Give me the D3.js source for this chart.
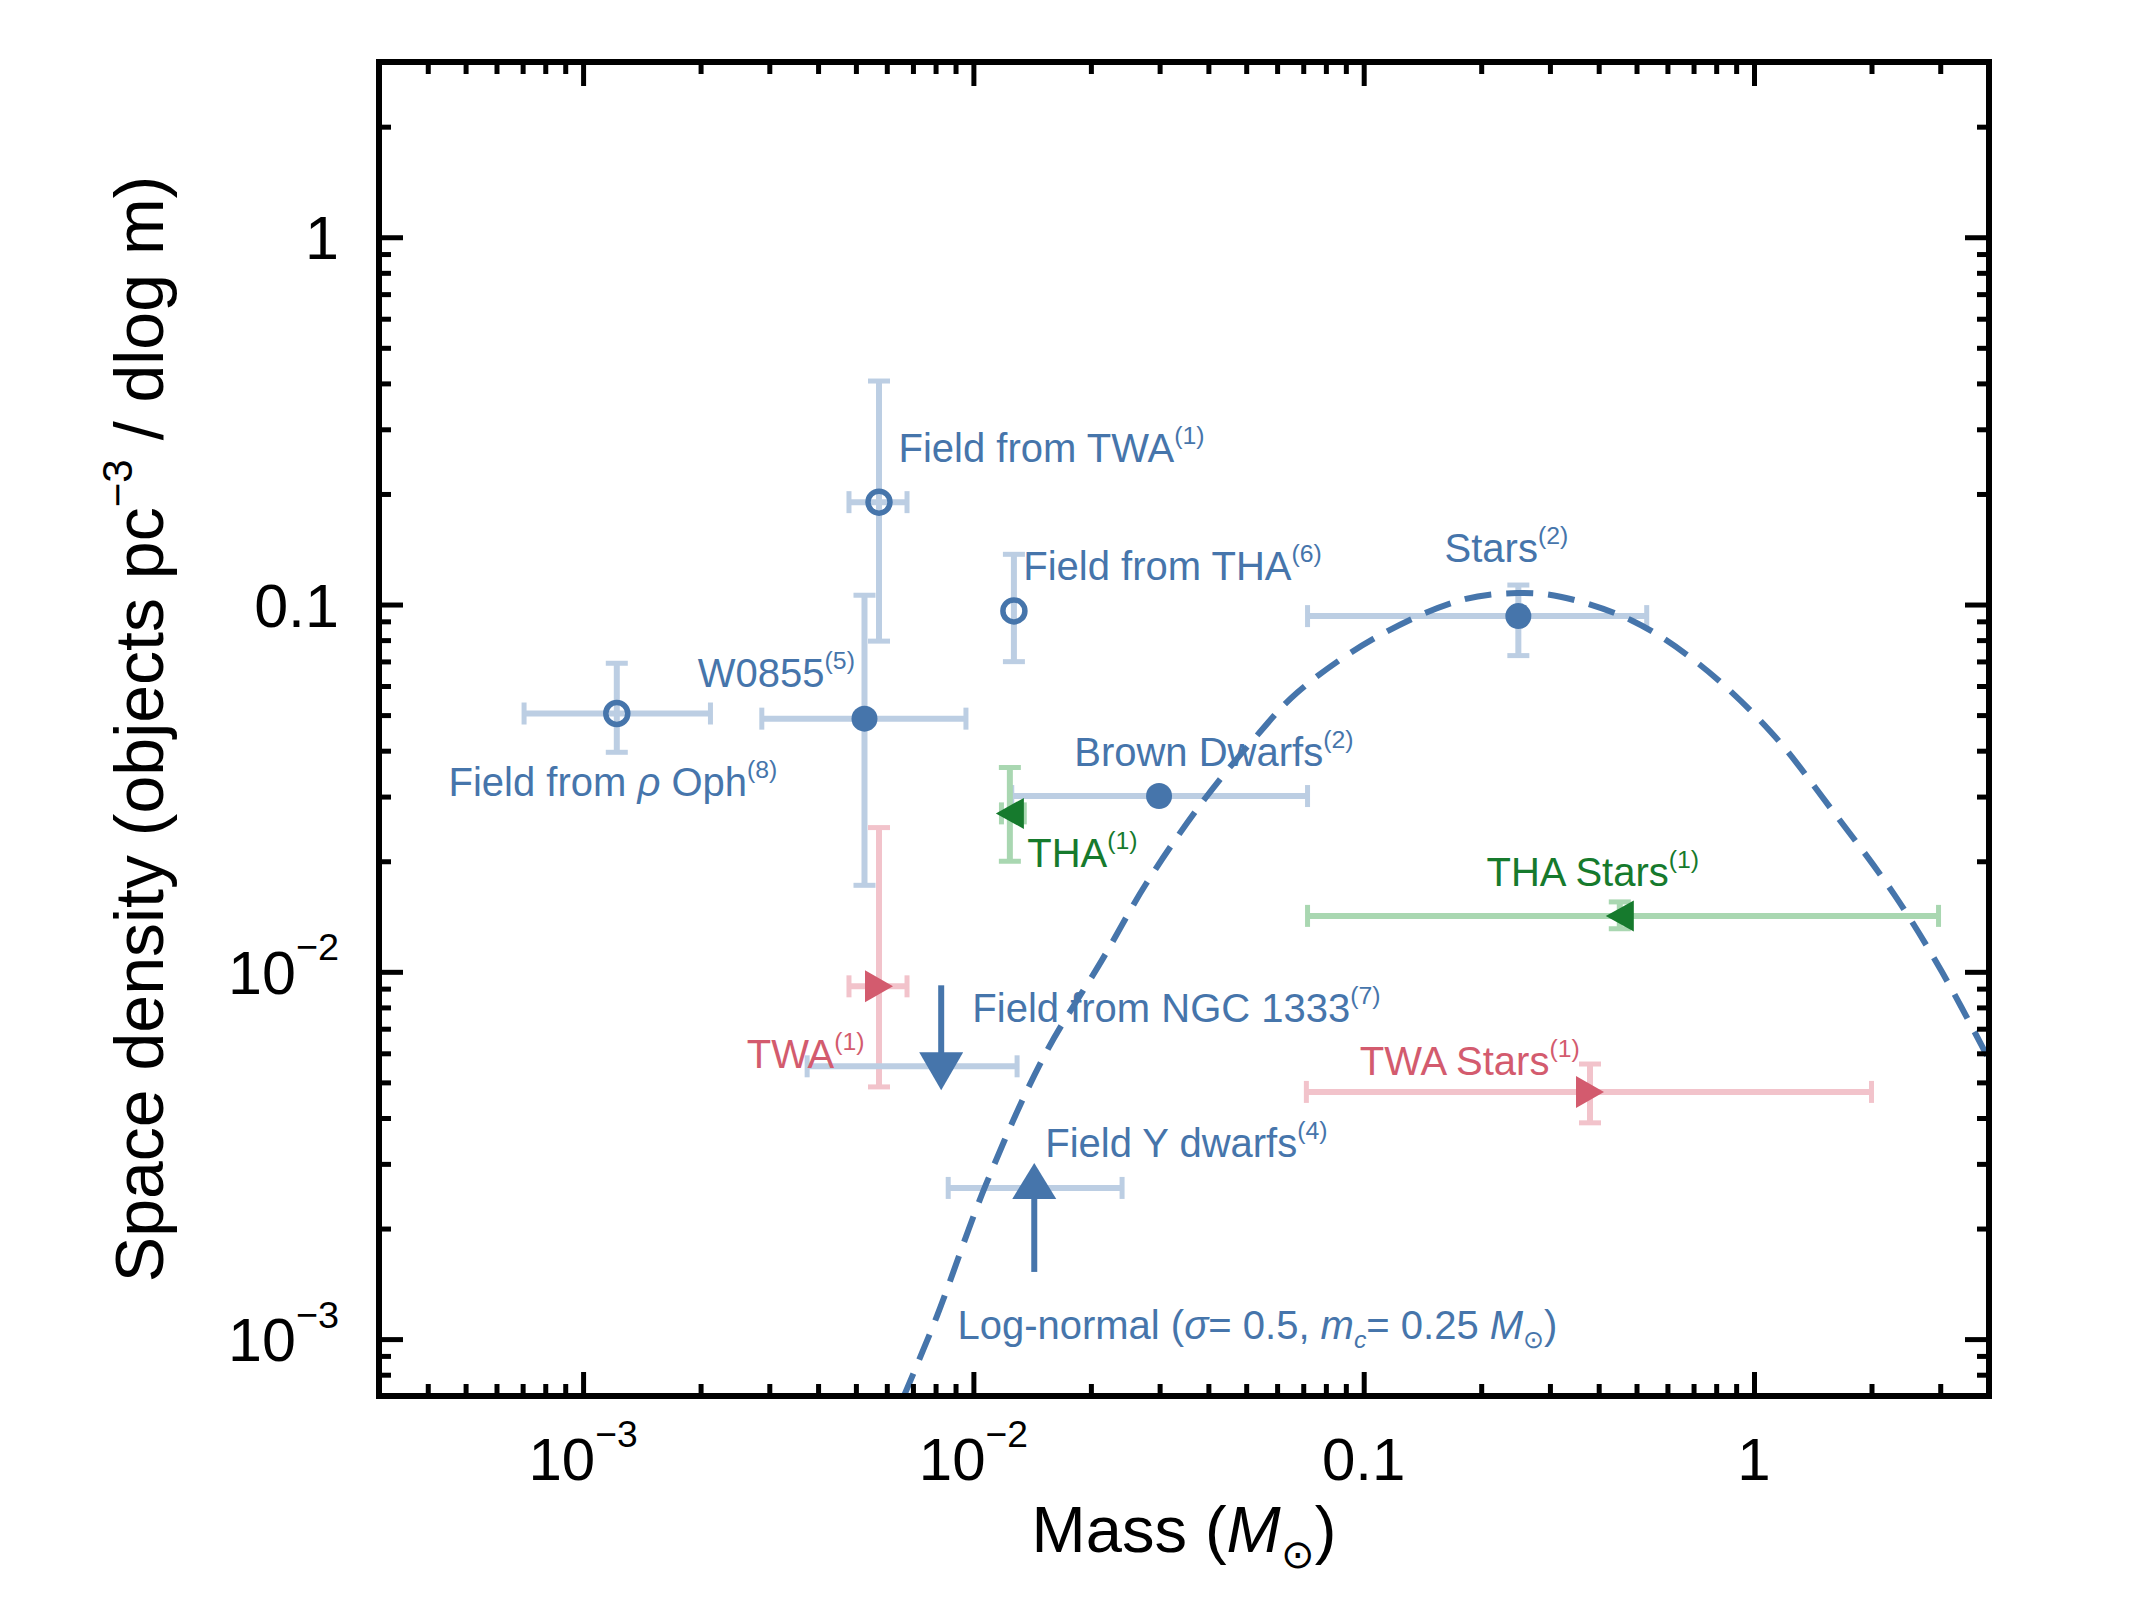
<!DOCTYPE html>
<html>
<head>
<meta charset="utf-8">
<script src="https://cdn.jsdelivr.net/npm/d3@7"></script>
<style>
  body { margin: 0; background: #fff; }
  svg { display: block; font-family: "Liberation Sans", Arial, sans-serif; }
</style>
</head>
<body>
<div id="wrapper"></div>
<script>
// ---- data ----
const pointNames = ["Field from rho Oph", "W0855", "Field from TWA", "Field from THA", "Stars",
  "Brown Dwarfs", "THA", "THA Stars", "TWA", "TWA Stars", "Field from NGC 1333", "Field Y dwarfs"]
const pointKind = ["field", "measured", "field", "field", "measured",
  "measured", "tha", "tha", "twa", "twa", "upper", "lower"]
const pointMass = [1.22e-3, 5.26e-3, 5.73e-3, 0.0127, 0.249, 0.0299, 0.0124, 0.453, 5.73e-3, 0.38, 8.27e-3, 0.01432]
const massLow = [7.06e-4, 2.87e-3, 4.80e-3, null, 0.0718, 0.01254, 0.0118, 0.0718, 4.80e-3, 0.0713, 3.75e-3, 8.62e-3]
const massHigh = [2.12e-3, 9.57e-3, 6.76e-3, null, 0.531, 0.0718, 0.0135, 2.97, 6.76e-3, 2.0, 0.01294, 0.02404]
const pointDensity = [0.0505, 0.0489, 0.19, 0.0961, 0.093, 0.0301, 0.027, 0.0142, 9.13e-3, 4.71e-3, 5.53e-3, 2.58e-3]
const densLow = [0.0396, 0.0172, 0.0795, 0.0699, 0.0726, null, 0.020, 0.0131, 4.86e-3, 3.88e-3, null, null]
const densHigh = [0.0692, 0.106, 0.406, 0.137, 0.113, null, 0.036, 0.0155, 0.0247, 5.61e-3, null, null]

// log-normal curve
const curveMass = [6.6e-3, 8.07e-3, 0.01079, 0.01518, 0.02135, 0.0277, 0.039, 0.0526, 0.0677, 0.1061,
  0.176, 0.2474, 0.319, 0.486, 0.721, 1.10, 1.588, 2.29, 3.03, 3.97]
const curveDensity = [6.9e-4, 1.157e-3, 2.65e-3, 5.90e-3, 0.01076, 0.01737, 0.0294, 0.0433, 0.0577, 0.0807,
  0.1025, 0.1075, 0.1050, 0.0905, 0.069, 0.0452, 0.0275, 0.0162, 0.0100, 5.86e-3]

// annotations
const labelText = ["Field from TWA", "Field from THA", "Stars", "W0855", "Field from |ρ| Oph",
  "Brown Dwarfs", "THA", "THA Stars", "Field from NGC 1333", "TWA", "TWA Stars", "Field Y dwarfs"]
const labelRef = ["(1)", "(6)", "(2)", "(5)", "(8)", "(2)", "(1)", "(1)", "(7)", "(1)", "(1)", "(4)"]
const labelKind = ["field", "field", "measured", "measured", "field", "measured", "tha", "tha", "upper", "twa", "twa", "lower"]

// ticks
const xMajor = [1e-3, 1e-2, 0.1, 1]
const xTickBase = ["10", "10", "0.1", "1"]
const xTickExp = ["−3", "−2", "", ""]
const yMajor = [1e-3, 1e-2, 0.1, 1]
const yTickBase = ["10", "10", "0.1", "1"]
const yTickExp = ["−3", "−2", "", ""]

const drawChart = () => {
  // 1) dimensions
  const dimensions = {
    width: 2134,
    height: 1600,
    margin: { top: 62, right: 145, bottom: 204, left: 379 },
  }
  dimensions.boundedWidth = dimensions.width - dimensions.margin.left - dimensions.margin.right
  dimensions.boundedHeight = dimensions.height - dimensions.margin.top - dimensions.margin.bottom
  const bw = dimensions.boundedWidth
  const bh = dimensions.boundedHeight

  const colors = {
    blue: "#4675ab", lightBlue: "#bccee3",
    red: "#d35b6e", lightRed: "#f2c3cb",
    green: "#167a2d", lightGreen: "#a9d7b1",
  }
  const kindStyle = {
    field: { marker: "open", color: colors.blue, light: colors.lightBlue },
    measured: { marker: "filled", color: colors.blue, light: colors.lightBlue },
    tha: { marker: "left", color: colors.green, light: colors.lightGreen },
    twa: { marker: "right", color: colors.red, light: colors.lightRed },
    upper: { marker: "down", color: colors.blue, light: colors.lightBlue },
    lower: { marker: "up", color: colors.blue, light: colors.lightBlue },
  }

  // 2) canvas
  const svg = d3.select("#wrapper").append("svg")
    .attr("width", dimensions.width)
    .attr("height", dimensions.height)

  const bounds = svg.append("g")
    .attr("transform", `translate(${dimensions.margin.left},${dimensions.margin.top})`)

  svg.append("defs").append("clipPath").attr("id", "plot-clip")
    .append("rect").attr("width", bw).attr("height", bh)

  // 3) scales
  const xScale = d3.scaleLog().domain([3e-4, 4]).range([0, bw])
  const yScale = d3.scaleLog().domain([7e-4, 3]).range([bh, 0])

  // rich text helper (italic / super / sub parts)
  const richText = (sel, parts, size, supRaise = 0.45) => {
    let off = 0
    parts.forEach((p) => {
      let target = 0
      let fs = size
      if (p.sup) { target = -size * supRaise; fs = size * 0.62 }
      if (p.sub) { target = size * 0.24; fs = size * 0.62 }
      const ts = sel.append("tspan").text(p.t).attr("dy", target - off).style("font-size", `${fs}px`)
      if (p.it) ts.style("font-style", "italic")
      off = target
    })
  }

  // 4) error bars
  const bars = bounds.append("g").attr("stroke-linecap", "butt")
  const cap = 11
  pointMass.forEach((m, i) => {
    const st = kindStyle[pointKind[i]]
    const cx = xScale(m)
    const cy = yScale(pointDensity[i])
    if (massLow[i] != null) {
      const x0 = xScale(massLow[i]), x1 = xScale(massHigh[i])
      bars.append("line").attr("x1", x0).attr("x2", x1).attr("y1", cy).attr("y2", cy)
        .attr("stroke", st.light).attr("stroke-width", 6)
      ;[x0, x1].forEach((xx) => bars.append("line")
        .attr("x1", xx).attr("x2", xx).attr("y1", cy - cap).attr("y2", cy + cap)
        .attr("stroke", st.light).attr("stroke-width", 5))
    }
    if (densLow[i] != null) {
      const y0 = yScale(densLow[i]), y1 = yScale(densHigh[i])
      bars.append("line").attr("x1", cx).attr("x2", cx).attr("y1", y0).attr("y2", y1)
        .attr("stroke", st.light).attr("stroke-width", 6)
      ;[y0, y1].forEach((yy) => bars.append("line")
        .attr("x1", cx - cap).attr("x2", cx + cap).attr("y1", yy).attr("y2", yy)
        .attr("stroke", st.light).attr("stroke-width", 5))
    }
  })

  // 5) annotations
  const labelAtMass = [6.43e-3, 0.01342, 0.1611, 1.968e-3, 4.52e-4, 0.01813, 0.01374, 0.2064, 9.94e-3, 2.626e-3, 0.0977, 0.01528]
  const labelAtDens = [0.244, 0.1164, 0.1303, 0.0596, 0.0301, 0.0363, 0.01928, 0.01712, 7.30e-3, 5.47e-3, 5.24e-3, 3.13e-3]
  labelText.forEach((txt, i) => {
    const t = bounds.append("text")
      .attr("x", xScale(labelAtMass[i]))
      .attr("y", yScale(labelAtDens[i]))
      .attr("fill", kindStyle[labelKind[i]].color)
    const parts = txt.split("|").map((s, k) => ({ t: s, it: k % 2 === 1 }))
    parts.push({ t: labelRef[i], sup: true })
    richText(t, parts, 40)
  })
  const lognormal = bounds.append("text")
    .attr("x", xScale(9.10e-3))
    .attr("y", yScale(1.002e-3))
    .attr("fill", colors.blue)
  richText(lognormal, [
    { t: "Log-normal (" }, { t: "σ", it: true }, { t: "= 0.5, " },
    { t: "m", it: true }, { t: "c", sub: true, it: true }, { t: "= 0.25 " },
    { t: "M", it: true }, { t: "⊙", sub: true }, { t: ")" },
  ], 40)

  // 6) log-normal curve
  const curveData = curveMass.map((m, i) => [m, curveDensity[i]])
  bounds.append("path")
    .datum(curveData)
    .attr("clip-path", "url(#plot-clip)")
    .attr("d", d3.line().x((d) => xScale(d[0])).y((d) => yScale(d[1])).curve(d3.curveCatmullRom))
    .attr("fill", "none")
    .attr("stroke", colors.blue)
    .attr("stroke-width", 6)
    .attr("stroke-dasharray", "27,15")

  // 7) markers
  const marks = bounds.append("g")
  pointMass.forEach((m, i) => {
    const st = kindStyle[pointKind[i]]
    const cx = xScale(m)
    const cy = yScale(pointDensity[i])
    if (st.marker === "filled") {
      marks.append("circle").attr("cx", cx).attr("cy", cy).attr("r", 13).attr("fill", st.color)
    } else if (st.marker === "open") {
      marks.append("circle").attr("cx", cx).attr("cy", cy).attr("r", 11)
        .attr("fill", "none").attr("stroke", st.color).attr("stroke-width", 5.5)
    } else if (st.marker === "left") {
      marks.append("path").attr("fill", st.color)
        .attr("d", `M${cx - 14},${cy}L${cx + 14},${cy - 15.5}L${cx + 14},${cy + 15.5}Z`)
    } else if (st.marker === "right") {
      marks.append("path").attr("fill", st.color)
        .attr("d", `M${cx + 14},${cy}L${cx - 14},${cy - 16}L${cx - 14},${cy + 16}Z`)
    } else if (st.marker === "down") {
      marks.append("line").attr("x1", cx).attr("x2", cx).attr("y1", cy - 81).attr("y2", cy - 12)
        .attr("stroke", st.color).attr("stroke-width", 6)
      marks.append("path").attr("fill", st.color)
        .attr("d", `M${cx - 22},${cy - 14}L${cx + 22},${cy - 14}L${cx},${cy + 24}Z`)
    } else if (st.marker === "up") {
      marks.append("line").attr("x1", cx).attr("x2", cx).attr("y1", cy + 9).attr("y2", cy + 84)
        .attr("stroke", st.color).attr("stroke-width", 6)
      marks.append("path").attr("fill", st.color)
        .attr("d", `M${cx - 22},${cy + 11}L${cx + 22},${cy + 11}L${cx},${cy - 25}Z`)
    }
  })

  // 8) axes: inward ticks on all four sides
  const minorTicks = (lo, hi) => {
    const out = []
    for (let e = -5; e <= 1; e++) {
      for (let k = 2; k <= 9; k++) {
        const v = k * Math.pow(10, e)
        if (v > lo && v < hi) out.push(v)
      }
    }
    return out
  }
  const xMinor = minorTicks(3e-4, 4)
  const yMinor = minorTicks(7e-4, 3)

  const axisGroups = [
    [d3.axisBottom(xScale), `translate(0,${bh})`, xMajor, xMinor],
    [d3.axisTop(xScale), "translate(0,0)", xMajor, xMinor],
    [d3.axisLeft(yScale), "translate(0,0)", yMajor, yMinor],
    [d3.axisRight(yScale), `translate(${bw},0)`, yMajor, yMinor],
  ]
  axisGroups.forEach(([gen, tr, major, minor]) => {
    ;[[major, 24], [minor, 12]].forEach(([vals, len]) => {
      const g = bounds.append("g").attr("transform", tr)
        .call(gen.tickValues(vals).tickSize(-len).tickFormat(""))
      g.select(".domain").remove()
      g.selectAll(".tick line").attr("stroke", "#000").attr("stroke-width", 5)
    })
  })

  bounds.append("rect")
    .attr("width", bw).attr("height", bh)
    .attr("fill", "none").attr("stroke", "#000").attr("stroke-width", 6)

  // tick labels
  xMajor.forEach((v, i) => {
    const t = bounds.append("text")
      .attr("x", xScale(v)).attr("y", bh + 84)
      .attr("text-anchor", "middle").attr("fill", "#000")
    const parts = [{ t: xTickBase[i] }]
    if (xTickExp[i]) parts.push({ t: xTickExp[i], sup: true })
    richText(t, parts, 60, 0.55)
  })
  yMajor.forEach((v, i) => {
    const t = bounds.append("text")
      .attr("x", -40).attr("y", yScale(v) + 22)
      .attr("text-anchor", "end").attr("fill", "#000")
    const parts = [{ t: yTickBase[i] }]
    if (yTickExp[i]) parts.push({ t: yTickExp[i], sup: true })
    richText(t, parts, 61, 0.55)
  })

  // axis titles
  const xTitle = bounds.append("text")
    .attr("x", bw / 2).attr("y", bh + 156)
    .attr("text-anchor", "middle").attr("fill", "#000")
  richText(xTitle, [{ t: "Mass (" }, { t: "M", it: true }, { t: "⊙", sub: true }, { t: ")" }], 65)

  const yTitle = bounds.append("text")
    .attr("transform", `translate(-216,${bh / 2}) rotate(-90)`)
    .attr("text-anchor", "middle").attr("fill", "#000")
  richText(yTitle, [{ t: "Space density (objects pc" }, { t: "−3", sup: true }, { t: " / dlog m)" }], 68)
}

drawChart()
</script>
</body>
</html>
